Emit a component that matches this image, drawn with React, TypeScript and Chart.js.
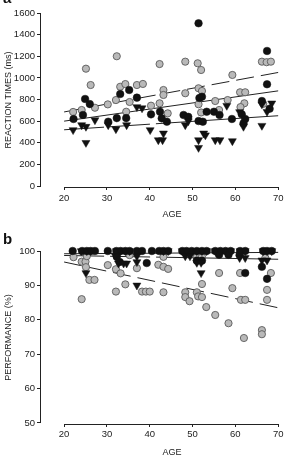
import React, { useEffect, useRef } from 'react';
import { Chart, registerables } from 'chart.js';
Chart.register(...registerables);

const FONT = '"Liberation Sans", Arial, Helvetica, sans-serif';
const INK = '#222';
const GREY_FILL = '#b9b9b9';
const GREY_EDGE = '#5a5a5a';
const BLACK = '#111';

// ---------- shared ----------
const ageTicks = [20, 30, 40, 50, 60, 70];
const ageRange = [14.6, 75.8];

// ---------- panel a: reaction times ----------
const rtTicks = [0, 200, 400, 600, 800, 1000, 1200, 1400, 1600];
const rtRange = [-9, 1600];
const rtGrey: [number, number][] = [
  [22.1, 685], [24.1, 703], [25.1, 1085], [26.2, 934], [27.2, 724], [30.2, 755], [32.3, 1200],
  [32.1, 795], [33.1, 918], [34.3, 943], [34.5, 687], [35.3, 777], [37.0, 934], [38.4, 944],
  [40.3, 743], [42.3, 765], [42.3, 1128], [43.2, 888], [43.2, 842], [44.2, 672], [48.3, 1150],
  [48.3, 858], [51.2, 1135], [52.0, 1073], [51.4, 904], [52.2, 879], [51.4, 756], [52.0, 680],
  [55.3, 786], [56.2, 703], [58.2, 795], [59.3, 1027], [61.1, 867], [62.3, 867], [62.1, 765],
  [61.2, 730], [66.5, 760], [66.2, 1150], [67.3, 1145], [68.3, 1150],
];
const rtBlack: [number, number][] = [
  [22.2, 620], [24.4, 657], [24.9, 805], [26.0, 758], [30.3, 595], [32.3, 628], [33.1, 851],
  [34.5, 628], [35.2, 888], [37.0, 817], [40.3, 663], [42.4, 687], [42.8, 626], [44.0, 595],
  [47.9, 657], [49.0, 640], [51.4, 601], [51.4, 1505], [51.6, 814], [52.2, 826], [52.4, 595],
  [53.3, 687], [55.0, 687], [56.3, 657], [59.2, 620], [61.5, 663], [61.9, 580], [62.3, 620],
  [66.2, 786], [67.4, 941], [67.4, 1249], [68.0, 715],
];
const rtTri: [number, number][] = [
  [22.1, 518], [24.1, 564], [25.1, 549], [25.1, 400], [27.2, 610], [30.3, 564], [32.1, 527],
  [34.6, 564], [37.0, 731], [38.2, 720], [40.1, 518], [42.0, 425], [43.0, 425], [43.2, 487],
  [48.3, 564], [49.0, 600], [51.4, 425], [51.4, 354], [52.6, 487], [53.0, 470], [55.3, 425],
  [56.4, 425], [58.0, 743], [59.3, 416], [61.0, 685], [61.9, 549], [66.2, 756], [66.2, 558],
  [67.4, 687], [68.5, 765],
];
const rtGreyFit: [number, number][] = [[20, 685], [70, 1050]];
const rtBlackFit: [number, number][] = [[20, 600], [70, 880]];
const rtTriFit: [number, number][] = [[20, 520], [70, 650]];

// ---------- panel b: performance ----------
const perfTicks = [50, 60, 70, 80, 90, 100];
const perfRange = [49.7, 100];
const perfGrey: [number, number][] = [
  [22.2, 98.2], [24.1, 96.9], [25.0, 96.9], [25.1, 95.3], [25.3, 98.5], [25.9, 91.6], [27.1, 91.6],
  [24.1, 86.0], [30.2, 95.9], [32.1, 94.7], [33.2, 93.5], [32.1, 88.2], [34.3, 90.3], [35.3, 98.8],
  [37.0, 95.0], [38.2, 88.2], [39.1, 88.2], [40.0, 88.2], [42.0, 96.0], [43.2, 95.4], [44.3, 94.8],
  [43.2, 98.3], [43.2, 88.0], [48.3, 88.0], [48.3, 86.6], [49.3, 85.4], [51.0, 88.0], [51.3, 86.8],
  [52.2, 86.6], [52.2, 90.4], [53.2, 83.7], [51.0, 98.3], [52.2, 98.3], [55.3, 81.4], [58.4, 79.0],
  [56.2, 93.6], [59.3, 89.2], [61.1, 93.6], [61.3, 85.8], [62.3, 85.8], [62.0, 74.7], [66.2, 77.0],
  [66.2, 75.8], [67.4, 88.7], [67.4, 85.8], [68.3, 93.6], [67.0, 98.0],
];
const perfBlack: [number, number][] = [
  [22.0, 100], [24.2, 100], [25.3, 100], [26.2, 100], [27.2, 100], [30.2, 100], [32.2, 100],
  [33.2, 100], [34.3, 100], [35.3, 100], [37.0, 100], [38.2, 100], [40.5, 100], [42.2, 100],
  [43.2, 100], [44.3, 100], [47.6, 100], [48.6, 100], [49.8, 100], [51.0, 100], [52.2, 100],
  [53.3, 100], [55.3, 100], [56.5, 100], [57.7, 100], [58.9, 100], [61.1, 100], [62.3, 100],
  [66.5, 100], [67.4, 100], [68.5, 100],
  [32.3, 98.3], [33.0, 96.8], [39.3, 96.5], [51.0, 97.2], [52.2, 97.2], [56.2, 98.9], [58.4, 98.9],
  [61.0, 98.9], [62.3, 93.6], [66.2, 95.4], [67.4, 91.9],
];
const perfTri: [number, number][] = [
  [24.0, 100], [25.3, 100], [26.2, 100], [32.2, 100], [33.2, 100], [34.3, 100], [35.3, 100],
  [43.2, 100], [44.3, 100], [47.6, 100], [48.6, 100], [51.0, 100], [52.2, 100], [53.3, 100],
  [55.3, 100], [56.5, 100], [58.9, 100], [61.1, 100], [62.3, 100], [66.5, 100], [67.4, 100],
  [68.5, 100],
  [25.1, 93.6], [32.7, 96.4], [33.9, 96.4], [34.6, 96.4], [32.0, 98.5], [37.0, 98.5], [37.0, 96.8],
  [37.0, 90.0], [48.3, 98.5], [49.4, 98.5], [51.0, 96.6], [52.0, 96.6], [52.0, 93.6], [61.0, 98.0],
  [62.3, 98.0], [66.2, 97.3], [67.4, 97.3],
];
const perfGreyFit: [number, number][] = [[20, 96.8], [70, 83.5]];
const perfBlackFit: [number, number][] = [[20, 99.2], [70, 99.6]];
const perfTriFit: [number, number][] = [[20, 98.7], [70, 97.6]];

const pts = (a: [number, number][]) => a.map(([x, y]) => ({ x, y }));

const offsetAxes = {
  id: 'offsetAxes',
  afterDraw(chart: any, _args: any, opts: any) {
    const { ctx, chartArea, scales } = chart;
    const xs = scales.x;
    const ys = scales.y;
    const xt: number[] = opts.xTicks;
    const yt: number[] = opts.yTicks;
    ctx.save();
    ctx.strokeStyle = INK;
    ctx.lineWidth = 1;
    ctx.beginPath();
    const lx = Math.round(chartArea.left) - 0.5;
    ctx.moveTo(lx, ys.getPixelForValue(yt[0]));
    ctx.lineTo(lx, ys.getPixelForValue(yt[yt.length - 1]));
    const by = Math.round(chartArea.bottom) + 0.5;
    ctx.moveTo(xs.getPixelForValue(xt[0]), by);
    ctx.lineTo(xs.getPixelForValue(xt[xt.length - 1]), by);
    ctx.stroke();
    ctx.restore();
  },
};

function makeConfig(p: {
  grey: [number, number][]; black: [number, number][]; tri: [number, number][];
  greyFit: [number, number][]; blackFit: [number, number][]; triFit: [number, number][];
  yTicks: number[]; yRange: number[]; yTitle: string; top: number; xHeight: number;
  xLabelPad: number; xTitlePad: number;
}) {
  const font = { family: FONT, size: 9 };
  const tickFont = { family: FONT, size: 9.5 };
  return {
    type: 'scatter' as const,
    data: {
      datasets: [
        { data: pts(p.tri), pointStyle: 'triangle', rotation: 180, pointRadius: 4.6, backgroundColor: BLACK, borderColor: BLACK, borderWidth: 0.5 },
        { data: pts(p.black), pointStyle: 'circle', pointRadius: 3.8, backgroundColor: BLACK, borderColor: BLACK, borderWidth: 0.5 },
        { data: pts(p.grey), pointStyle: 'circle', pointRadius: 3.6, backgroundColor: GREY_FILL, borderColor: GREY_EDGE, borderWidth: 0.9 },
        { data: pts(p.greyFit), showLine: true, pointRadius: 0, borderColor: INK, borderWidth: 1, borderDash: [18, 7] },
        { data: pts(p.blackFit), showLine: true, pointRadius: 0, borderColor: INK, borderWidth: 1 },
        { data: pts(p.triFit), showLine: true, pointRadius: 0, borderColor: INK, borderWidth: 1, borderDash: [40, 6] },
      ],
    },
    options: {
      responsive: false,
      animation: false,
      events: [],
      clip: false,
      layout: { padding: { top: p.top, left: 0, right: 7, bottom: 0 } },
      plugins: {
        legend: { display: false },
        tooltip: { enabled: false },
        offsetAxes: { xTicks: ageTicks, yTicks: p.yTicks },
      },
      scales: {
        x: {
          type: 'linear',
          min: ageRange[0],
          max: ageRange[1],
          afterBuildTicks: (s: any) => { s.ticks = ageTicks.map((v) => ({ value: v })); },
          afterFit: (s: any) => { s.height = p.xHeight; },
          grid: { drawOnChartArea: false, tickLength: 3, color: INK },
          border: { display: false },
          ticks: { padding: p.xLabelPad, color: INK, font: tickFont, maxRotation: 0, autoSkip: false, callback: (v: any) => String(v) },
          title: { display: true, text: 'AGE', color: INK, font, padding: { top: 0, bottom: p.xTitlePad } },
        },
        y: {
          type: 'linear',
          min: p.yRange[0],
          max: p.yRange[1],
          afterBuildTicks: (s: any) => { s.ticks = p.yTicks.map((v) => ({ value: v })); },
          afterFit: (s: any) => { s.width = 41; },
          grid: { drawOnChartArea: false, tickLength: 4, color: INK },
          border: { display: false },
          ticks: { padding: 2, color: INK, font: tickFont, autoSkip: false, callback: (v: any) => String(v) },
          title: { display: true, text: p.yTitle, color: INK, font, padding: { top: 3, bottom: 0 } },
        },
      },
    },
    plugins: [offsetAxes],
  };
}

function Panel(props: { cfg: any; width: number; height: number; top: number }) {
  const ref = useRef<HTMLCanvasElement>(null);
  useEffect(() => {
    if (!ref.current) return;
    const chart = new Chart(ref.current, props.cfg);
    return () => chart.destroy();
  }, []);
  return (
    <canvas
      ref={ref}
      width={props.width}
      height={props.height}
      style={{ position: 'absolute', left: 0, top: props.top, width: props.width, height: props.height, display: 'block' }}
    />
  );
}

export default function App() {
  const cfgA = makeConfig({
    grey: rtGrey, black: rtBlack, tri: rtTri,
    greyFit: rtGreyFit, blackFit: rtBlackFit, triFit: rtTriFit,
    yTicks: rtTicks, yRange: rtRange, yTitle: 'REACTION TIMES (ms)',
    top: 13, xHeight: 41, xLabelPad: 3, xTitlePad: 7.6,
  });
  const cfgB = makeConfig({
    grey: perfGrey, black: perfBlack, tri: perfTri,
    greyFit: perfGreyFit, blackFit: perfBlackFit, triFit: perfTriFit,
    yTicks: perfTicks, yRange: perfRange, yTitle: 'PERFORMANCE (%)',
    top: 23, xHeight: 44, xLabelPad: 2, xTitlePad: 9.6,
  });
  const letter: React.CSSProperties = {
    position: 'absolute', left: 3, fontFamily: FONT, fontWeight: 'bold', fontSize: 15,
    lineHeight: '15px', color: '#111',
  };
  return (
    <div style={{ position: 'absolute', left: 0, top: 0, width: 284, height: 457, overflow: 'hidden', background: '#fff' }}>
      <Panel cfg={cfgA} width={310} height={228} top={0} />
      <Panel cfg={cfgB} width={310} height={240} top={228} />
      <div style={{ ...letter, top: -10 }}>a</div>
      <div style={{ ...letter, top: 231 }}>b</div>
    </div>
  );
}
